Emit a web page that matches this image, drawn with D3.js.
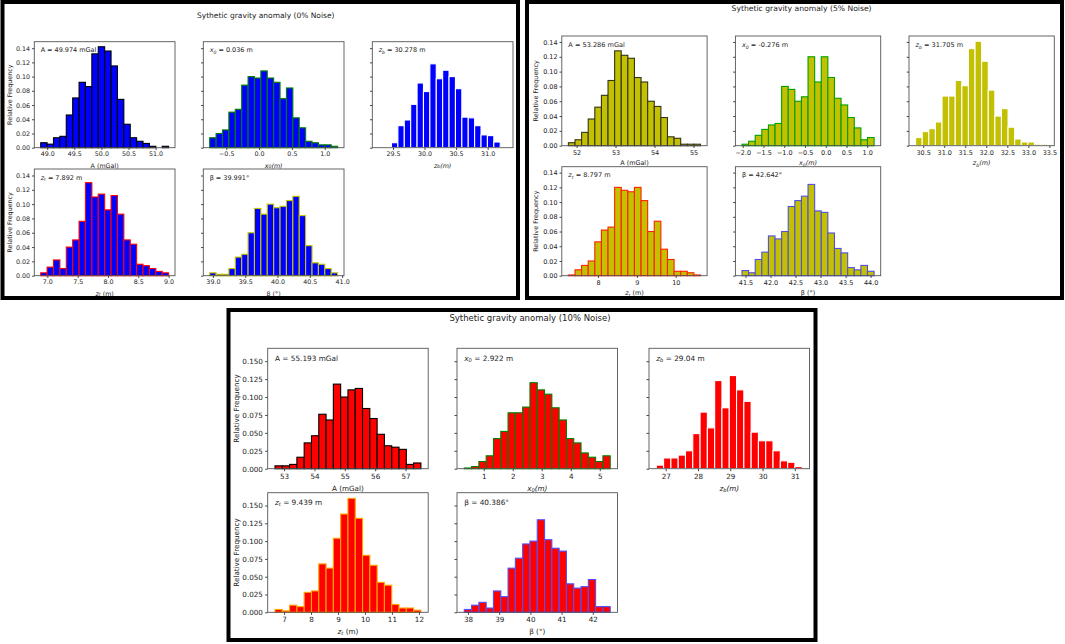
<!DOCTYPE html>
<html><head><meta charset="utf-8">
<script src="https://cdn.jsdelivr.net/npm/d3@7"></script>
<style>body{margin:0;background:#fff}svg{display:block}text{font-family:"DejaVu Sans",sans-serif;fill:#222}</style>
</head><body><svg id="c" width="1065" height="644"></svg>
<script>
// ---------------- DATA ----------------
const panelTitles = ["Sythetic gravity anomaly (0% Noise)", "Sythetic gravity anomaly (5% Noise)", "Sythetic gravity anomaly (10% Noise)"];
const paramKeys = ["A", "xo", "zb", "zt", "beta"];

// 0% noise : bin range [first edge, last edge], 20 bins of relative frequency
const n0_A_bins = [48.88, 51.24];
const n0_A_freq = [0.007,0.005,0.014,0.016,0.046,0.070,0.092,0.086,0.132,0.142,0.136,0.115,0.068,0.033,0.014,0.009,0.006,0.002,0.000,0.002];
const n0_xo_bins = [-0.752, 1.196];
const n0_xo_freq = [0.014,0.020,0.025,0.050,0.054,0.088,0.100,0.098,0.108,0.098,0.092,0.069,0.084,0.042,0.028,0.009,0.007,0.004,0.004,0.002];
const n0_zb_bins = [29.274, 31.30];
const n0_zb_freq = [0.001,0.001,0.007,0.031,0.039,0.061,0.091,0.079,0.118,0.097,0.109,0.100,0.083,0.043,0.042,0.031,0.018,0.017,0.008,0.001];
const n0_zt_bins = [6.89, 9.0];
const n0_zt_freq = [0.004,0.012,0.022,0.010,0.040,0.050,0.076,0.130,0.110,0.114,0.092,0.112,0.086,0.050,0.044,0.016,0.014,0.010,0.006,0.004];
const n0_beta_bins = [38.95, 40.93];
const n0_beta_freq = [0.004,0.002,0.002,0.010,0.026,0.030,0.060,0.094,0.086,0.100,0.095,0.097,0.105,0.111,0.084,0.042,0.018,0.016,0.010,0.004];
const n0_estimates = [49.974, 0.036, 30.278, 7.892, 39.991];

// 5% noise
const n5_A_bins = [51.79, 55.18];
const n5_A_freq = [0.004,0.008,0.018,0.036,0.052,0.068,0.088,0.128,0.122,0.118,0.092,0.086,0.060,0.053,0.038,0.012,0.010,0.002,0.002,0.002];
const n5_xo_bins = [-2.017, 1.165];
const n5_xo_freq = [0.002,0.006,0.014,0.022,0.028,0.030,0.080,0.076,0.060,0.066,0.120,0.086,0.120,0.092,0.064,0.055,0.038,0.024,0.008,0.011];
const n5_zb_bins = [30.32, 33.46];
const n5_zb_freq = [0.011,0.019,0.023,0.032,0.067,0.067,0.088,0.081,0.131,0.141,0.114,0.075,0.040,0.050,0.025,0.009,0.005,0.005,0.002,0.002];
const n5_zt_bins = [7.239, 10.637];
const n5_zt_freq = [0.001,0.008,0.014,0.020,0.046,0.062,0.066,0.120,0.116,0.114,0.120,0.102,0.060,0.074,0.036,0.022,0.006,0.006,0.004,0.001];
const n5_beta_bins = [41.43, 44.07];
const n5_beta_freq = [0.007,0.004,0.022,0.032,0.054,0.050,0.060,0.094,0.102,0.108,0.124,0.088,0.086,0.058,0.037,0.031,0.011,0.008,0.014,0.006];
const n5_estimates = [53.286, -0.276, 31.705, 8.797, 42.642];

// 10% noise
const n10_A_bins = [52.70, 57.507];
const n10_A_freq = [0.004,0.004,0.006,0.016,0.036,0.046,0.076,0.068,0.118,0.100,0.110,0.112,0.084,0.070,0.048,0.032,0.030,0.027,0.006,0.008];
const n10_xo_bins = [0.33, 5.36];
const n10_xo_freq = [0.001,0.003,0.010,0.018,0.042,0.052,0.078,0.078,0.086,0.120,0.110,0.104,0.085,0.068,0.042,0.036,0.022,0.016,0.010,0.018];
const n10_zb_bins = [26.708, 31.23];
const n10_zb_freq = [0.005,0.015,0.015,0.019,0.025,0.049,0.079,0.057,0.123,0.085,0.130,0.110,0.094,0.051,0.039,0.039,0.025,0.011,0.009,0.003];
const n10_zt_bins = [6.665, 12.074];
const n10_zt_freq = [0.004,0.002,0.010,0.008,0.028,0.030,0.068,0.062,0.104,0.138,0.160,0.132,0.080,0.066,0.042,0.038,0.011,0.006,0.006,0.003];
const n10_beta_bins = [37.88, 42.56];
const n10_beta_freq = [0.004,0.010,0.014,0.006,0.030,0.022,0.062,0.076,0.096,0.100,0.130,0.102,0.090,0.086,0.040,0.034,0.036,0.046,0.008,0.008];
const n10_estimates = [55.193, 2.922, 29.04, 9.439, 40.386];

// tick labels
const n0_xticks = [["49.0","49.5","50.0","50.5","51.0"],["−0.5","0.0","0.5","1.0"],["29.5","30.0","30.5","31.0"],["7.0","7.5","8.0","8.5","9.0"],["39.0","39.5","40.0","40.5","41.0"]];
const n5_xticks = [["52","53","54","55"],["−2.0","−1.5","−1.0","−0.5","0.0","0.5","1.0"],["30.5","31.0","31.5","32.0","32.5","33.0","33.5"],["8","9","10"],["41.5","42.0","42.5","43.0","43.5","44.0"]];
const n10_xticks = [["53","54","55","56","57"],["1","2","3","4","5"],["27","28","29","30","31"],["7","8","9","10","11","12"],["38","39","40","41","42"]];
const yticks_2 = ["0.00","0.02","0.04","0.06","0.08","0.10","0.12","0.14"];
const yticks_3 = ["0.000","0.025","0.050","0.075","0.100","0.125","0.150"];

// colours
const fillColors = ["#0000ff", "#c2c000", "#ff0000"];
const edgeColors = [
  ["#000000", "#008000", "#ffffff", "#ff0000", "#c8c800"],
  ["#333318", "#00a000", "#ffffff", "#ff2000", "#5050e0"],
  ["#000000", "#008000", "#ffffff", "#ffa500", "#5050ff"]
];

// ---------------- TABLE ----------------
const panelData = [
  {bins:[n0_A_bins,n0_xo_bins,n0_zb_bins,n0_zt_bins,n0_beta_bins], freq:[n0_A_freq,n0_xo_freq,n0_zb_freq,n0_zt_freq,n0_beta_freq], est:n0_estimates, xticks:n0_xticks, yticks:yticks_2},
  {bins:[n5_A_bins,n5_xo_bins,n5_zb_bins,n5_zt_bins,n5_beta_bins], freq:[n5_A_freq,n5_xo_freq,n5_zb_freq,n5_zt_freq,n5_beta_freq], est:n5_estimates, xticks:n5_xticks, yticks:yticks_2},
  {bins:[n10_A_bins,n10_xo_bins,n10_zb_bins,n10_zt_bins,n10_beta_bins], freq:[n10_A_freq,n10_xo_freq,n10_zb_freq,n10_zt_freq,n10_beta_freq], est:n10_estimates, xticks:n10_xticks, yticks:yticks_3}
];

// ---------------- LAYOUT ----------------
const layout = [
  {border:[2.5,2,515.5,296], title:[265.7,15], fs:6.35, tfs:7.5, lefts:[34.3,203.3,372.3], w:140.7, rows:[[41.7,147.7],[169,275.7]], ylx:9.3},
  {border:[527,2,535,296], title:[801.6,8.5], fs:6.45, tfs:7.65, lefts:[561.8,735.4,909], w:145.3, rows:[[36,145.7],[166.7,275.7]], ylx:536},
  {border:[228.5,310,587,330], title:[530,318.3], fs:7.2, tfs:8.5, lefts:[267.7,457,649], w:160.5, rows:[[348.3,468.7],[492.7,612.3]], ylx:236}
];
const grid = [[0,0],[0,1],[0,2],[1,0],[1,1]];

const svg = d3.select("#c");

function rich(sel, parts, fs) {
  let prevSub = false;
  parts.forEach(p => {
    const t = sel.append("tspan").text(p.t);
    if (p.i) t.attr("font-style", "italic");
    if (p.sub) { t.attr("font-size", fs * 0.72).attr("dy", fs * 0.28); prevSub = true; }
    else if (prevSub) { t.attr("dy", -fs * 0.28); prevSub = false; }
  });
}
function xlabelParts(k) {
  return {
    A: [{t:"A (mGal)"}],
    xo: [{t:"x",i:1},{t:"0",i:1,sub:1},{t:"(m)",i:1}],
    zb: [{t:"z",i:1},{t:"b",i:1,sub:1},{t:"(m)",i:1}],
    zt: [{t:"z",i:1},{t:"t",i:1,sub:1},{t:" (m)"}],
    beta: [{t:"β (°)"}]
  }[k];
}
function annParts(k, v) {
  const s = String(v);
  return {
    A: [{t:"A = " + s + " mGal"}],
    xo: [{t:"x",i:1},{t:"0",i:1,sub:1},{t:" = " + s + " m"}],
    zb: [{t:"z",i:1},{t:"b",i:1,sub:1},{t:" = " + s + " m"}],
    zt: [{t:"z",i:1},{t:"t",i:1,sub:1},{t:" = " + s + " m"}],
    beta: [{t:"β = " + s + "°"}]
  }[k];
}
const num = s => +s.replace("−", "-");

panelData.forEach((pd, pi) => {
  const L = layout[pi];
  const g = svg.append("g");
  g.append("rect").attr("x", L.border[0]).attr("y", L.border[1]).attr("width", L.border[2]).attr("height", L.border[3])
    .attr("fill", "none").attr("stroke", "#000").attr("stroke-width", 4);
  g.append("text").attr("x", L.title[0]).attr("y", L.title[1]).attr("text-anchor", "middle")
    .attr("dominant-baseline", "central").attr("font-size", L.tfs).text(panelTitles[pi]);

  const ymax = d3.max(pd.freq.flat()) * 1.05;
  const fs = L.fs, tl = fs * 0.35;

  paramKeys.forEach((key, k) => {
    const [r, c] = grid[k];
    const x0 = L.lefts[c], x1 = x0 + L.w;
    const [y0, y1] = L.rows[r];
    const bins = pd.bins[k], freq = pd.freq[k];
    const span = bins[1] - bins[0];
    const xs = d3.scaleLinear().domain([bins[0] - 0.05 * span, bins[1] + 0.05 * span]).range([x0, x1]);
    const ys = d3.scaleLinear().domain([0, ymax]).range([y1, y0]);
    const step = span / freq.length;
    const edges = d3.range(freq.length).map(i => bins[0] + i * step);
    const sg = g.append("g");

    sg.selectAll("rect.bar").data(freq).join("rect").attr("class", "bar")
      .attr("x", (d, i) => xs(edges[i]))
      .attr("width", (d, i) => xs(edges[i] + step) - xs(edges[i]))
      .attr("y", d => ys(d)).attr("height", d => ys(0) - ys(d))
      .attr("fill", fillColors[pi]).attr("stroke", edgeColors[pi][k]).attr("stroke-width", 1.1);

    sg.append("rect").attr("x", x0).attr("y", y0).attr("width", L.w).attr("height", y1 - y0)
      .attr("fill", "none").attr("stroke", "#555").attr("stroke-width", 0.9);

    // x axis
    const xa = sg.append("g").attr("transform", `translate(0,${y1})`)
      .call(d3.axisBottom(xs).tickValues(pd.xticks[k].map(num)).tickFormat((d, i) => pd.xticks[k][i]).tickSize(tl).tickPadding(tl * 0.9));
    xa.select(".domain").remove();
    xa.selectAll("line").attr("stroke", "#444");
    xa.selectAll("text").attr("font-size", fs).attr("font-family", "DejaVu Sans").attr("fill", "#222");

    // y axis
    const ya = sg.append("g").attr("transform", `translate(${x0},0)`)
      .call(d3.axisLeft(ys).tickValues(pd.yticks.map(num)).tickFormat((d, i) => c === 0 ? pd.yticks[i] : "").tickSize(tl).tickPadding(tl * 0.9));
    ya.select(".domain").remove();
    ya.selectAll("line").attr("stroke", "#444");
    ya.selectAll("text").attr("font-size", fs).attr("font-family", "DejaVu Sans").attr("fill", "#222");

    // x label
    const xl = sg.append("text").attr("x", (x0 + x1) / 2).attr("y", y1 + fs * 2.65)
      .attr("text-anchor", "middle").attr("dominant-baseline", "central").attr("font-size", fs);
    rich(xl, xlabelParts(key), fs);

    // y label
    if (c === 0) {
      sg.append("text").attr("transform", `translate(${L.ylx},${(y0 + y1) / 2}) rotate(-90)`)
        .attr("text-anchor", "middle").attr("dominant-baseline", "central").attr("font-size", fs).text("Relative Frequency");
    }

    // annotation
    const an = sg.append("text").attr("x", x0 + 0.045 * L.w).attr("y", y0 + 0.08 * (y1 - y0))
      .attr("dominant-baseline", "central").attr("font-size", fs * 1.02);
    rich(an, annParts(key, pd.est[k]), fs);
  });
});
</script></body></html>
